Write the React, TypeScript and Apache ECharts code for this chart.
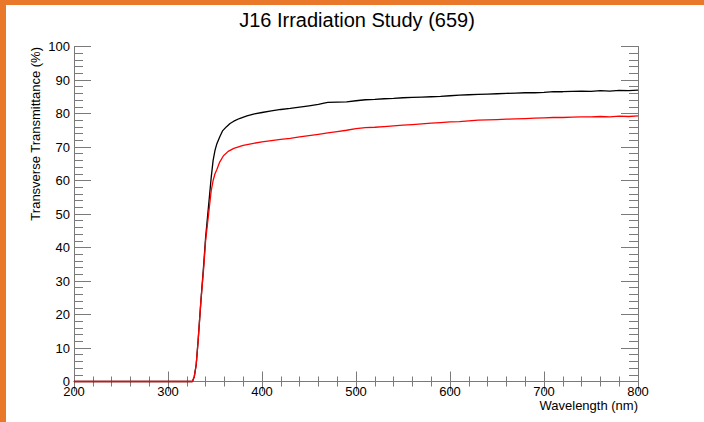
import React, { useEffect, useRef } from "react";
import * as echarts from "echarts";

const blackWl = [200, 326, 328, 330, 332, 335, 338, 340, 342, 344, 346, 348, 350, 352, 355, 358, 362, 366, 370, 376, 384, 392, 400, 410, 420, 430, 440, 450, 460, 466, 470, 480, 490, 500, 510, 520, 530, 540, 550, 560, 570, 580, 590, 600, 610, 620, 630, 640, 650, 660, 670, 680, 690, 700, 710, 720, 730, 740, 750, 760, 770, 780, 790, 800];
const blackT = [0, 0, 1.5, 5, 12, 24, 35, 43, 49, 55, 61, 66, 69, 71, 73, 74.8, 76, 77, 77.7, 78.5, 79.3, 79.9, 80.3, 80.8, 81.2, 81.5, 81.9, 82.3, 82.7, 83.1, 83.3, 83.4, 83.5, 83.8, 84.1, 84.2, 84.4, 84.5, 84.7, 84.8, 84.9, 85.0, 85.1, 85.3, 85.5, 85.6, 85.7, 85.8, 85.9, 86.0, 86.1, 86.2, 86.2, 86.3, 86.5, 86.5, 86.6, 86.7, 86.6, 86.8, 86.7, 86.9, 86.8, 87.0];

const redWl = [200, 326, 328, 330, 332, 335, 338, 340, 342, 344, 346, 348, 350, 352, 355, 359, 364, 370, 380, 391, 400, 410, 420, 430, 440, 450, 460, 470, 480, 490, 500, 510, 520, 530, 540, 550, 560, 570, 580, 590, 600, 610, 620, 630, 640, 650, 660, 670, 680, 690, 700, 710, 720, 730, 740, 750, 760, 770, 780, 790, 800];
const redT = [0, 0, 1.5, 5, 12, 24, 34, 42, 47, 52, 57, 60, 62, 63.3, 65.5, 67.4, 68.7, 69.6, 70.5, 71.1, 71.5, 71.9, 72.3, 72.6, 73.0, 73.4, 73.8, 74.2, 74.6, 75.0, 75.5, 75.8, 75.9, 76.1, 76.3, 76.5, 76.7, 76.9, 77.1, 77.3, 77.5, 77.6, 77.8, 78.0, 78.1, 78.2, 78.3, 78.4, 78.5, 78.6, 78.7, 78.8, 78.8, 78.9, 79.0, 79.0, 79.1, 79.0, 79.2, 79.1, 79.3];

const titleText = "J16 Irradiation Study (659)";
const xTitle = "Wavelength (nm)";
const yTitle = "Transverse Transmittance (%)";

const FONT = "'Liberation Sans', Arial, Helvetica, sans-serif";
const AXIS_COLOR = "#7a7a7a";

function zip(xs: number[], ys: number[]) {
  return xs.map((x, i) => [x, ys[i]]);
}

export default function App() {
  const ref = useRef<HTMLDivElement>(null);
  useEffect(() => {
    if (!ref.current) return;
    const chart = echarts.init(ref.current, null, { renderer: "svg" });
    const xBase = (pos: "bottom" | "top", labels: boolean) => ({
      type: "value",
      position: pos,
      min: 200,
      max: 800,
      interval: 100,
      axisLine: { show: true, lineStyle: { color: AXIS_COLOR, width: 1 } },
      axisTick: { show: true, inside: true, length: 10, lineStyle: { color: AXIS_COLOR } },
      minorTick: { show: true, splitNumber: 5, length: 5, lineStyle: { color: AXIS_COLOR } },
      splitLine: { show: false },
      axisLabel: { show: labels, color: "#000", fontFamily: FONT, fontSize: 13, margin: 3 },
    });
    const yBase = (pos: "left" | "right", labels: boolean) => ({
      type: "value",
      position: pos,
      min: 0,
      max: 100,
      interval: 10,
      axisLine: { show: true, lineStyle: { color: AXIS_COLOR, width: 1 } },
      axisTick: { show: true, inside: true, length: 17, lineStyle: { color: AXIS_COLOR } },
      minorTick: { show: true, splitNumber: 5, length: 9, lineStyle: { color: AXIS_COLOR } },
      splitLine: { show: false },
      axisLabel: { show: labels, color: "#000", fontFamily: FONT, fontSize: 13, margin: 4 },
    });
    chart.setOption({
      animation: false,
      backgroundColor: "#fff",
      grid: { left: 74, right: 66, top: 46.5, bottom: 40.5, containLabel: false, outerBoundsMode: "none" },
      xAxis: [xBase("bottom", true), xBase("top", false)],
      yAxis: [yBase("left", true), yBase("right", false)],
      series: [
        {
          type: "line",
          data: zip(blackWl, blackT),
          showSymbol: false,
          clip: false,
          z: 5,
          lineStyle: { color: "#000", width: 1.3 },
          xAxisIndex: 0,
          yAxisIndex: 0,
        },
        {
          type: "line",
          data: zip(redWl, redT),
          showSymbol: false,
          clip: false,
          z: 6,
          lineStyle: { color: "#ff0000", width: 1.3 },
          xAxisIndex: 0,
          yAxisIndex: 0,
        },
      ],
      graphic: [
        { type: "rect", shape: { x: 0, y: 0, width: 6, height: 422 }, style: { fill: "#E9782A" }, z: 100 },
        { type: "rect", shape: { x: 0, y: 0, width: 704, height: 5 }, style: { fill: "#E9782A" }, z: 100 },
        {
          type: "text",
          x: 357,
          y: 20,
          style: { text: titleText, fill: "#000", font: `20px ${FONT}`, align: "center", verticalAlign: "middle" },
        },
        {
          type: "text",
          x: 638,
          y: 405,
          style: { text: xTitle, fill: "#000", font: `13px ${FONT}`, align: "right", verticalAlign: "middle" },
        },
        {
          type: "text",
          x: 35,
          y: 47,
          rotation: Math.PI / 2,
          style: { text: yTitle, fill: "#000", font: `13px ${FONT}`, align: "right", verticalAlign: "middle" },
        },
      ],
    });
    return () => chart.dispose();
  }, []);
  return <div ref={ref} style={{ position: "fixed", left: 0, top: 0, width: 704, height: 422 }} />;
}
